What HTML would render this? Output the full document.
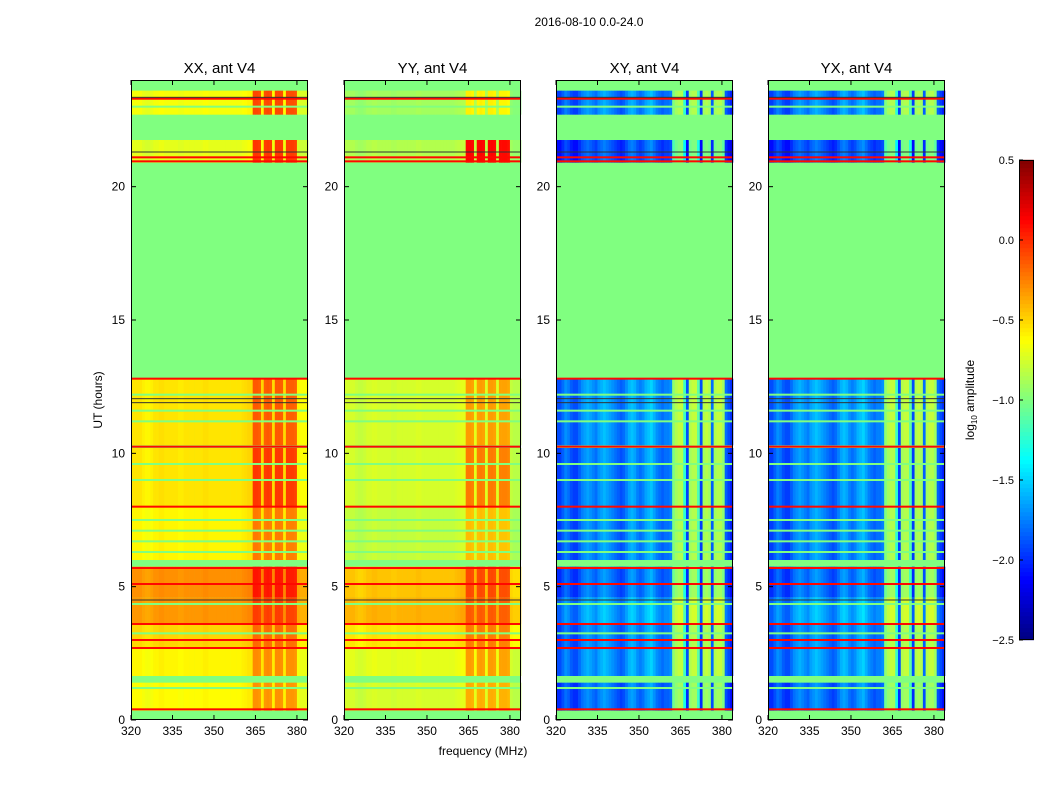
<!DOCTYPE html>
<html><head><meta charset="utf-8">
<style>
html,body{margin:0;padding:0;background:#fff;}
svg{display:block;font-family:"Liberation Sans",sans-serif;}
</style></head>
<body>
<svg id="fig" width="1050" height="800" viewBox="0 0 1050 800" xmlns="http://www.w3.org/2000/svg">
<text x="589" y="26" font-size="12" text-anchor="middle">2016-08-10 0.0-24.0</text>
<text x="483" y="755" font-size="12" text-anchor="middle">frequency (MHz)</text>
<text x="0" y="0" font-size="12" text-anchor="middle" transform="translate(102,400) rotate(-90)">UT (hours)</text>
<text x="0" y="0" font-size="12" text-anchor="middle" transform="translate(974,400) rotate(-90)">log<tspan font-size="8" dy="3">10</tspan><tspan dy="-3"> amplitude</tspan></text>
<g id="panels"></g>
<g id="cbar"></g>
</svg>
<script>
// ---- data ----
const panelNames = ["XX, ant V4","YY, ant V4","XY, ant V4","YX, ant V4"];
const bandStart = [0.35,1.65,2.7,3.6,4.6,6.0,8.0,10.3,20.9,22.7];
const bandEnd   = [1.4,2.7,3.6,4.6,5.75,8.0,10.2,12.8,21.75,23.6];
const xxLevel = [-0.62,-0.6,-0.5,-0.32,-0.3,-0.6,-0.55,-0.55,-0.7,-0.65];
const yyLevel = [-0.75,-0.7,-0.55,-0.4,-0.45,-0.8,-0.75,-0.75,-0.85,-0.9];
const xxHi = [0.1,0.1,0.1,0.05,0.15,0.15,0.3,0.2,0.45,0.35];
const yyHi = [0.15,0.15,0.1,0.05,0.15,0.15,0.3,0.2,0.75,0.1];
const xyLevel = [-1.8,-1.7,-1.75,-1.65,-1.8,-1.75,-1.75,-1.7,-1.9,-1.75];
const yxLevel = [-1.8,-1.7,-1.75,-1.65,-1.8,-1.75,-1.75,-1.7,-1.9,-1.75];
const freqs = []; for(let f=320; f<384; f++) freqs.push(f);
const autoOffset = [0,0,0,0,-0.03,-0.05,-0.05,-0.03,0,0,0.02,0.02,0,0,0,0,0,-0.02,-0.02,0,0,0,0,0,0,0,0.02,0.02,0,0,0,0,0,0,0,0,0,0,0,0,0.02,0.03,0.05,0.05,0.22,0.22,0.2,0.05,0.2,0.22,0.2,0.03,0.22,0.22,0.2,0.03,0.2,0.2,0.2,0.18,-0.05,-0.08,-0.08,-0.08];
const crossOffset = [-0.2,-0.2,-0.1,0,-0.05,-0.15,-0.2,-0.2,-0.1,0,0.05,0.1,0.05,0,-0.05,0.05,0.1,0.15,0.1,0.05,0,-0.05,-0.1,-0.15,-0.1,0,0.1,0.15,0.1,0,-0.05,0,0.1,0.15,0.2,0.1,0,-0.05,-0.1,-0.05,-0.05,0,0.75,0.85,0.9,0.9,0.5,-0.2,0.85,0.9,0.9,0.6,-0.2,0.85,0.9,0.85,-0.1,0.85,0.9,0.9,0.8,-0.1,-0.2,-0.3];
const redLines = [0.4,2.7,3.0,3.6,5.1,5.7,8.0,10.25,12.8,20.95,21.1,23.3];
const greenLines = [1.2,3.25,4.35,6.3,6.7,7.1,7.5,9.0,9.6,11.2,11.6,12.2,22.1,23.0];
const blackLines = [4.5,11.9,12.05,21.3,23.35];
const yTicks = [0,5,10,15,20];
const xTicks = [320,335,350,365,380];
const cbTicks = [0.5,0.0,-0.5,-1.0,-1.5,-2.0,-2.5];

// ---- geometry ----
const NS="http://www.w3.org/2000/svg";
const panelLeft=[131,344,556,768], panelW=177, axTop=80, axBottom=720;
const yScale = h => axBottom - (h/24)*(axBottom-axTop);
const xScale = (p,f) => panelLeft[p] + (f-320)/64*panelW;
const vmin=-2.5, vmax=0.5;
function jet(v){
  let x=(Math.max(vmin,Math.min(vmax,v))-vmin)/(vmax-vmin);
  const c=t=>Math.round(255*Math.max(0,Math.min(1,t)));
  return `rgb(${c(1.5-Math.abs(4*x-3))},${c(1.5-Math.abs(4*x-2))},${c(1.5-Math.abs(4*x-1))})`;
}
function mk(tag,attrs,parent){const e=document.createElementNS(NS,tag);for(const k in attrs)e.setAttribute(k,attrs[k]);parent.appendChild(e);return e;}
const panels=document.getElementById('panels');
const levels=[xxLevel,yyLevel,xyLevel,yxLevel];
const his=[xxHi,yyHi,null,null];
const names=["xx","yy","xy","yx"];
for(let p=0;p<4;p++){
  const g=mk('g',{},panels);
  
  
  const bg=mk('rect',{x:panelLeft[p],y:axTop,width:panelW,height:axBottom-axTop,fill:jet(-1.0)},g);
  
  
  const off = p<2 ? autoOffset : crossOffset;
  for(let b=0;b<bandStart.length;b++){
    const y0=yScale(bandEnd[b]), y1=yScale(bandStart[b]);
    for(let i=0;i<freqs.length;i++){
      const x0=xScale(p,freqs[i]), x1=xScale(p,freqs[i]+1);
      let v=levels[p][b]+off[i];
      if(his[p] && off[i]>0.1) v+=his[p][b];
      const r=mk('rect',{x:x0.toFixed(2),y:y0.toFixed(2),width:(x1-x0+0.3).toFixed(2),height:(y1-y0).toFixed(2),fill:jet(v)},g);
      
      
    }
  }
  for(const h of greenLines){
    const l=mk('rect',{x:panelLeft[p],y:yScale(h)-1,width:panelW,height:2,fill:jet(-1.0)},g);
    
    
  }
  for(const h of redLines){
    const l=mk('rect',{x:panelLeft[p],y:yScale(h)-1,width:panelW,height:2,fill:jet(0.1)},g);
    
    
  }
  for(const h of blackLines){
    const l=mk('rect',{x:panelLeft[p],y:yScale(h)-0.5,width:panelW,height:1,fill:'#333'},g);
    
    
  }
  const fr=mk('rect',{x:panelLeft[p]+0.5,y:axTop+0.5,width:panelW-1,height:axBottom-axTop-1,fill:'none',stroke:'#000','stroke-width':1},g);
  
  
  const t=mk('text',{x:panelLeft[p]+panelW/2,y:73,'font-size':15,'text-anchor':'middle'},g);
  t.textContent=panelNames[p];
  
  
  for(const v of yTicks){
    const y=yScale(v);
    mk('line',{x1:panelLeft[p],x2:panelLeft[p]+5,y1:y,y2:y,stroke:'#000'},g);
    mk('line',{x1:panelLeft[p]+panelW-5,x2:panelLeft[p]+panelW,y1:y,y2:y,stroke:'#000'},g);
    const tl=mk('text',{x:panelLeft[p]-6,y:y+4,'font-size':12,'text-anchor':'end'},g);
    tl.textContent=v;
    
    
  }
  for(const v of xTicks){
    const x=xScale(p,v);
    mk('line',{x1:x,x2:x,y1:axBottom,y2:axBottom-5,stroke:'#000'},g);
    mk('line',{x1:x,x2:x,y1:axTop,y2:axTop+5,stroke:'#000'},g);
    const tl=mk('text',{x:x,y:axBottom+15,'font-size':12,'text-anchor':'middle'},g);
    tl.textContent=v;
    
    
  }
}
// colorbar
const cb=document.getElementById('cbar');


const cbX=1019,cbW=15,cbTop=160,cbBot=640;
const cbY=v=>cbBot-(v-vmin)/(vmax-vmin)*(cbBot-cbTop);
for(let i=0;i<120;i++){
  const v=vmin+(i+0.5)*(vmax-vmin)/120;
  mk('rect',{x:cbX,y:(cbY(v)-2.2).toFixed(2),width:cbW,height:4.4,fill:jet(v)},cb);
}
mk('rect',{x:cbX+0.5,y:cbTop+0.5,width:cbW-1,height:cbBot-cbTop-1,fill:'none',stroke:'#000'},cb);
for(const v of cbTicks){
  const y=cbY(v);
  mk('line',{x1:cbX,x2:cbX+4,y1:y,y2:y,stroke:'#000'},cb);
  const tl=mk('text',{x:cbX-5,y:y+4,'font-size':11,'text-anchor':'end'},cb);
  tl.textContent=(v<0?'\u2212':'')+Math.abs(v).toFixed(1);
  
  
}
</script>
</body></html>
